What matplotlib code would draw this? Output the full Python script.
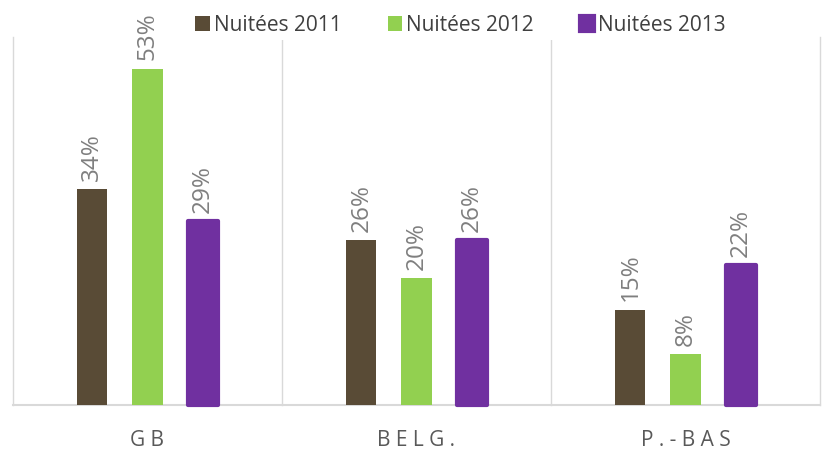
import numpy as np
import matplotlib.pyplot as plt

categories = ['G B', 'B E L G .', 'P . - B A S']
series_names = ['Nuitées 2011', 'Nuitées 2012', 'Nuitées 2013']
nuitees_2011 = [34, 26, 15]
nuitees_2012 = [53, 20, 8]
nuitees_2013 = [29, 26, 22]
colors = ['#594b36', '#92d050', '#7030a0']

plt.rcParams['font.family'] = ['Open Sans', 'DejaVu Sans']

fig = plt.figure(figsize=(8.27, 4.5), dpi=100)
ax = fig.add_axes([0.0157, 0.1, 0.9758, 0.818])

x = np.arange(len(categories))
offset = 0.205
width = 0.112
values = [nuitees_2011, nuitees_2012, nuitees_2013]

for i, (vals, col, name) in enumerate(zip(values, colors, series_names)):
    pos = x + (i - 1) * offset
    if i == 2:
        # purple bars have a rounded outline in the original
        bars = ax.bar(pos, vals, width, color=col, edgecolor=col, linewidth=3,
                      joinstyle='round', label=name, zorder=3, clip_on=False)
    else:
        bars = ax.bar(pos, vals, width, color=col, label=name, zorder=3)
    for p, v in zip(pos, vals):
        ax.annotate(f'{v}%', (p, v), xytext=(0, 6), textcoords='offset points',
                    rotation=90, ha='center', va='bottom', fontsize=17.5,
                    color='#7f7f7f', annotation_clip=False)

ax.set_xlim(-0.5, 2.5)
ax.set_ylim(0, 58)
for s in ['top', 'right', 'left']:
    ax.spines[s].set_visible(False)
ax.spines['bottom'].set_color('#d9d9d9')
ax.spines['bottom'].set_linewidth(1.5)
for b in [-0.5, 0.5, 1.5, 2.5]:
    ax.axvline(b, color='#d9d9d9', lw=1, zorder=1, clip_on=False)

ax.set_yticks([])
ax.set_xticks(x)
ax.set_xticklabels(categories, fontsize=15, color='#595959')
ax.tick_params(axis='x', length=0, pad=18)

leg = fig.legend(loc='center', bbox_to_anchor=(0.557, 0.944), ncol=3,
                 frameon=True, edgecolor='none', facecolor='white', framealpha=1,
                 fontsize=15, handlelength=0.7, handleheight=0.7,
                 handletextpad=0.2, columnspacing=2.2, borderpad=0.2)
for t in leg.get_texts():
    t.set_color('#404040')

fig.savefig('out.png', dpi=100)
